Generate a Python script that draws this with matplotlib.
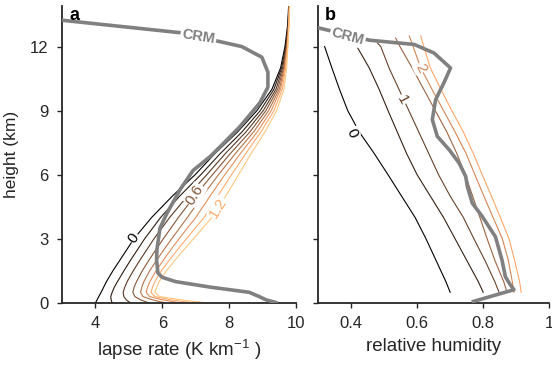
import numpy as np
import matplotlib
matplotlib.use('Agg')
import matplotlib.pyplot as plt

plt.rcParams['font.family'] = ['Liberation Sans', 'DejaVu Sans']
plt.rcParams['mathtext.fontset'] = 'custom'
plt.rcParams['mathtext.rm'] = 'Liberation Sans'
plt.rcParams['mathtext.it'] = 'Liberation Sans'

# --- panel a: lapse rate contours (K/km) vs height ---
z_a = [0, 0.15, 0.3, 0.5, 0.75, 1, 1.5, 2, 2.5, 3, 4, 5, 6, 7, 8, 9, 10, 11, 12, 13, 13.9]
levels_a = [0.0, 0.2, 0.4, 0.6, 0.8, 1.0, 1.2, 1.4]
lapse_0_0 = [4.00, 4.05, 4.10, 4.17, 4.25, 4.33, 4.52, 4.73, 4.94, 5.15, 5.68, 6.30, 6.98, 7.58, 8.25, 8.83, 9.28, 9.54, 9.67, 9.75, 9.78]
lapse_0_2 = [4.50, 4.47, 4.46, 4.50, 4.57, 4.66, 4.85, 5.05, 5.26, 5.47, 5.95, 6.52, 7.15, 7.74, 8.38, 8.93, 9.34, 9.57, 9.69, 9.76, 9.79]
lapse_0_4 = [5.05, 4.92, 4.85, 4.83, 4.88, 4.95, 5.13, 5.33, 5.54, 5.75, 6.22, 6.75, 7.33, 7.89, 8.50, 9.02, 9.40, 9.60, 9.71, 9.77, 9.79]
lapse_0_6 = [5.60, 5.35, 5.18, 5.12, 5.16, 5.23, 5.40, 5.60, 5.81, 6.03, 6.48, 6.97, 7.50, 8.04, 8.62, 9.10, 9.45, 9.63, 9.72, 9.77, 9.80]
lapse_0_8 = [6.10, 5.70, 5.42, 5.35, 5.39, 5.45, 5.62, 5.83, 6.05, 6.28, 6.75, 7.20, 7.68, 8.19, 8.73, 9.18, 9.50, 9.65, 9.73, 9.78, 9.80]
lapse_1_0 = [6.55, 6.00, 5.62, 5.52, 5.56, 5.63, 5.81, 6.03, 6.26, 6.50, 7.00, 7.43, 7.87, 8.34, 8.84, 9.26, 9.54, 9.67, 9.74, 9.78, 9.80]
lapse_1_2 = [6.95, 6.25, 5.78, 5.66, 5.71, 5.78, 5.97, 6.21, 6.46, 6.72, 7.25, 7.66, 8.07, 8.50, 8.95, 9.34, 9.59, 9.69, 9.75, 9.79, 9.81]
lapse_1_4 = [7.35, 6.55, 5.92, 5.78, 5.84, 5.91, 6.12, 6.38, 6.65, 6.93, 7.48, 7.90, 8.28, 8.66, 9.07, 9.42, 9.64, 9.72, 9.76, 9.79, 9.81]
lapse_lines = [lapse_0_0, lapse_0_2, lapse_0_4, lapse_0_6, lapse_0_8, lapse_1_0, lapse_1_2, lapse_1_4]

z_crm_a = [0, 0.15, 0.3, 0.5, 0.75, 1.0, 1.2, 1.4, 2.0, 2.5, 3.5, 4.2, 5.3, 6.2, 6.85, 7.5, 8.25, 9.37, 10.1, 10.8, 11.5, 12.0, 12.25, 12.65, 13.25]
lapse_crm = [9.45, 9.1, 8.9, 8.6, 7.4, 6.4, 6.0, 5.87, 5.83, 5.84, 5.93, 6.14, 6.53, 6.92, 7.43, 7.85, 8.32, 8.92, 9.16, 9.16, 8.98, 8.38, 7.67, 6.53, 2.9]

# --- panel b: relative humidity contours ---
levels_b = [0.0, 0.5, 1.0, 1.5, 2.0, 2.5]
z_rh_0_0 = [0.5, 1, 2, 3, 4, 5, 6, 7, 8, 9, 10, 11, 12]
rh_0_0 = [0.700, 0.687, 0.657, 0.627, 0.594, 0.553, 0.512, 0.470, 0.425, 0.390, 0.365, 0.342, 0.320]
z_rh_0_5 = [0.5, 1, 2, 3, 4, 5, 6, 7, 8, 9, 10, 11, 11.94]
rh_0_5 = [0.800, 0.785, 0.750, 0.715, 0.680, 0.640, 0.600, 0.568, 0.540, 0.512, 0.485, 0.455, 0.420]
z_rh_1_0 = [0.5, 1, 2, 3, 4, 5, 6, 7, 8, 9, 10, 11, 12, 12.17]
rh_1_0 = [0.848, 0.835, 0.805, 0.772, 0.740, 0.700, 0.665, 0.635, 0.605, 0.575, 0.545, 0.515, 0.490, 0.480]
z_rh_1_5 = [0.5, 1, 2, 3, 4, 5, 6, 7, 8, 9, 10, 11, 12, 12.4]
rh_1_5 = [0.872, 0.862, 0.835, 0.812, 0.790, 0.768, 0.746, 0.720, 0.690, 0.655, 0.620, 0.585, 0.548, 0.535]
z_rh_2_0 = [0.5, 1, 2, 3, 4, 5, 6, 7, 8, 9, 10, 11, 12, 12.5]
rh_2_0 = [0.893, 0.888, 0.876, 0.858, 0.830, 0.802, 0.775, 0.748, 0.715, 0.680, 0.645, 0.611, 0.588, 0.576]
z_rh_2_5 = [0.5, 1, 2, 3, 4, 5, 6, 7, 8, 9, 10, 11, 12, 12.5]
rh_2_5 = [0.915, 0.910, 0.895, 0.878, 0.852, 0.825, 0.797, 0.770, 0.740, 0.705, 0.672, 0.640, 0.620, 0.611]
rh_lines = [(z_rh_0_0, rh_0_0), (z_rh_0_5, rh_0_5), (z_rh_1_0, rh_1_0),
            (z_rh_1_5, rh_1_5), (z_rh_2_0, rh_2_0), (z_rh_2_5, rh_2_5)]

z_crm_b = [0.05, 0.62, 0.9, 1.23, 2.0, 3.1, 4.05, 4.67, 5.45, 5.92, 6.55, 7.17, 7.8, 8.58, 9.52, 10.3, 11.0, 11.7, 12.1, 12.3, 12.88, 12.95]
rh_crm = [0.765, 0.893, 0.88, 0.867, 0.857, 0.837, 0.797, 0.767, 0.752, 0.747, 0.727, 0.697, 0.661, 0.646, 0.656, 0.681, 0.701, 0.651, 0.591, 0.455, 0.30, 0.28]

cmap = plt.get_cmap('copper')
crm_gray = '#808080'
ink = '#262626'

fig = plt.figure(figsize=(5.52, 3.69), dpi=100)
ax1 = fig.add_axes([0.1123, 0.1789, 0.4239, 0.8049])
ax2 = fig.add_axes([0.5761, 0.1789, 0.4190, 0.8049])

def style(ax):
    for s in ['top', 'right']:
        ax.spines[s].set_visible(False)
    for s in ['left', 'bottom']:
        ax.spines[s].set_linewidth(1.3)
        ax.spines[s].set_color(ink)
    ax.tick_params(direction='out', length=3.5, width=1.0, color=ink, pad=6,
                   labelsize=12, labelcolor=ink)
    ax.set_ylim(0, 13.9)
    ax.set_yticks([0, 3, 6, 9, 12])

def clabel(ax, x, y, s, color, rot):
    ax.text(x, y, s, color=color, fontsize=11, rotation=rot, ha='center', va='center',
            rotation_mode='anchor', zorder=5,
            bbox=dict(boxstyle='square,pad=0.05', fc='white', ec='none'))

# panel a
for lev, xs in zip(levels_a, lapse_lines):
    ax1.plot(xs, z_a, color=cmap(lev / 1.4), lw=0.8, zorder=2)
ax1.plot(lapse_crm, z_crm_a, color=crm_gray, lw=2.6, zorder=3, solid_capstyle='butt')
clabel(ax1, 5.15, 3.05, '0', cmap(0.0), 55)
clabel(ax1, 6.98, 5.06, '0.6', cmap(0.6 / 1.4), 58)
clabel(ax1, 7.68, 4.44, '1.2', cmap(1.2 / 1.4), 58)
ax1.text(7.08, 12.45, 'CRM', color=crm_gray, fontsize=10.5, fontweight='bold', rotation=-9,
         ha='center', va='center', rotation_mode='anchor', zorder=5,
         bbox=dict(boxstyle='square,pad=0.1', fc='white', ec='none'))
ax1.set_xlim(3, 10)
ax1.set_xticks([4, 6, 8, 10])
style(ax1)
ax1.set_xlabel('lapse rate (K km$^{-1}$ )', fontsize=13.5, color=ink, labelpad=5)
ax1.set_ylabel('height (km)', fontsize=12.5, color=ink, labelpad=8)
ax1.text(0.03, 0.995, 'a', transform=ax1.transAxes, fontsize=13, fontweight='bold', va='top')

# panel b
for lev, (zs, xs) in zip(levels_b, rh_lines):
    ax2.plot(xs, zs, color=cmap(lev / 3.0), lw=0.8, zorder=2)
ax2.plot(rh_crm, z_crm_b, color=crm_gray, lw=2.6, zorder=3, solid_capstyle='butt')
clabel(ax2, 0.403, 7.95, '0', cmap(0.0), -65)
clabel(ax2, 0.556, 9.52, '1', cmap(1.0 / 3.0), -62)
clabel(ax2, 0.611, 11.0, '2', cmap(2.0 / 3.0), -65)
ax2.text(0.39, 12.48, 'CRM', color=crm_gray, fontsize=10.5, fontweight='bold', rotation=-15,
         ha='center', va='center', rotation_mode='anchor', zorder=5,
         bbox=dict(boxstyle='square,pad=0.1', fc='white', ec='none'))
ax2.set_xlim(0.3, 1.0)
ax2.set_xticks([0.4, 0.6, 0.8, 1.0])
ax2.set_xticklabels(['0.4', '0.6', '0.8', '1'])
style(ax2)
ax2.set_yticklabels([])
ax2.set_xlabel('relative humidity', fontsize=13.5, color=ink, labelpad=5)
ax2.text(0.03, 0.995, 'b', transform=ax2.transAxes, fontsize=13, fontweight='bold', va='top')

fig.savefig('out.png', dpi=100)
